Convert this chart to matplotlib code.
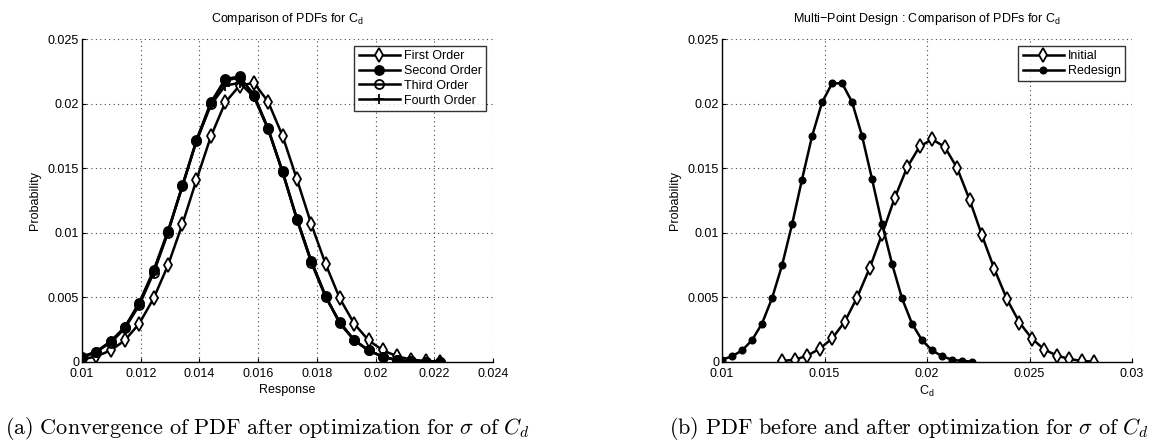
import matplotlib
matplotlib.use("Agg")
import matplotlib.pyplot as plt
from matplotlib.ticker import FixedLocator, FixedFormatter

plt.rcParams['font.family'] = ['Liberation Sans', 'DejaVu Sans']
plt.rcParams['mathtext.fontset'] = 'custom'
plt.rcParams['mathtext.rm'] = 'Liberation Sans'
plt.rcParams['mathtext.it'] = 'Liberation Sans:italic'

# ---------------- data: left panel ----------------
x_resp = [0.01000, 0.01049, 0.01098, 0.01146, 0.01195, 0.01244, 0.01293, 0.01342,
          0.01390, 0.01439, 0.01488, 0.01537, 0.01586, 0.01634, 0.01683, 0.01732,
          0.01781, 0.01830, 0.01878, 0.01927, 0.01976, 0.02025, 0.02074, 0.02122,
          0.02171, 0.02220]
first_order = [0.00018, 0.00044, 0.00090, 0.00168, 0.00297, 0.00493, 0.00749, 0.01067,
               0.01410, 0.01746, 0.02009, 0.02140, 0.02160, 0.02014, 0.01751, 0.01415,
               0.01067, 0.00757, 0.00493, 0.00297, 0.00168, 0.00090, 0.00044, 0.00018,
               0.00008, 0.00003]
second_order = [0.00040, 0.00080, 0.00160, 0.00270, 0.00460, 0.00710, 0.01015, 0.01360,
                0.01720, 0.02010, 0.02190, 0.02210, 0.02060, 0.01810, 0.01470, 0.01110,
                0.00780, 0.00510, 0.00300, 0.00170, 0.00090, 0.00040, 0.00013, 0.00005,
                0.00002, 0.00001]
third_order = [0.00030, 0.00080, 0.00150, 0.00260, 0.00440, 0.00690, 0.01000, 0.01370,
               0.01710, 0.02000, 0.02180, 0.02200, 0.02070, 0.01800, 0.01480, 0.01100,
               0.00770, 0.00500, 0.00310, 0.00170, 0.00090, 0.00040, 0.00015, 0.00005,
               0.00002, 0.00001]
fourth_order = [0.00040, 0.00080, 0.00160, 0.00270, 0.00450, 0.00700, 0.01010, 0.01360,
                0.01710, 0.01990, 0.02140, 0.02160, 0.02050, 0.01800, 0.01470, 0.01110,
                0.00780, 0.00510, 0.00300, 0.00170, 0.00090, 0.00040, 0.00014, 0.00005,
                0.00002, 0.00001]

left_xticks = [0.01, 0.012, 0.014, 0.016, 0.018, 0.02, 0.022, 0.024]
left_xlabels = ['0.01', '0.012', '0.014', '0.016', '0.018', '0.02', '0.022', '0.024']

# ---------------- data: right panel ----------------
x_initial = [0.01294, 0.01355, 0.01416, 0.01477, 0.01538, 0.01599, 0.01659, 0.01720,
             0.01781, 0.01842, 0.01903, 0.01964, 0.02025, 0.02086, 0.02147, 0.02208,
             0.02268, 0.02329, 0.02390, 0.02451, 0.02512, 0.02573, 0.02634, 0.02695,
             0.02756, 0.02817]
initial = [0.00008, 0.00018, 0.00049, 0.00103, 0.00183, 0.00313, 0.00499, 0.00726,
           0.00989, 0.01268, 0.01506, 0.01668, 0.01723, 0.01666, 0.01501, 0.01255,
           0.00981, 0.00718, 0.00486, 0.00305, 0.00181, 0.00096, 0.00049, 0.00023,
           0.00008, 0.00003]
x_redesign = x_resp
redesign = [0.00018, 0.00044, 0.00090, 0.00168, 0.00297, 0.00493, 0.00749, 0.01067,
            0.01410, 0.01746, 0.02009, 0.02157, 0.02157, 0.02014, 0.01751, 0.01415,
            0.01067, 0.00757, 0.00493, 0.00297, 0.00168, 0.00090, 0.00044, 0.00018,
            0.00008, 0.00003]

right_xticks = [0.01, 0.015, 0.02, 0.025, 0.03]
right_xlabels = ['0.01', '0.015', '0.02', '0.025', '0.03']

yticks = [0, 0.005, 0.01, 0.015, 0.02, 0.025]
ylabels = ['0', '0.005', '0.01', '0.015', '0.02', '0.025']

W, H = 1167, 442
fig = plt.figure(figsize=(W / 100, H / 100), dpi=100)

def ax_rect(x0, y0, x1, y1):
    return [x0 / W, 1 - y1 / H, (x1 - x0) / W, (y1 - y0) / H]

ax1 = fig.add_axes(ax_rect(82, 39, 493, 362))
ax2 = fig.add_axes(ax_rect(722, 39, 1132, 362))

LW = 1.8
MEW = 1.3
FS = 9

def style(ax, xlim, xticks, xlabels):
    ax.set_xlim(*xlim)
    ax.set_ylim(0, 0.025)
    ax.xaxis.set_major_locator(FixedLocator(xticks))
    ax.xaxis.set_major_formatter(FixedFormatter(xlabels))
    ax.yaxis.set_major_locator(FixedLocator(yticks))
    ax.yaxis.set_major_formatter(FixedFormatter(ylabels))
    ax.grid(True, linestyle=(0, (1, 3)), color='#444444', linewidth=0.8)
    for s in ['top', 'right']:
        ax.spines[s].set_visible(False)
    for s in ['left', 'bottom']:
        ax.spines[s].set_linewidth(1.0)
    ax.tick_params(direction='in', length=3, width=0.8, labelsize=FS,
                   top=False, right=False)
    ax.tick_params(axis='x', pad=4)
    ax.tick_params(axis='y', pad=2)
    ax.set_ylabel('Probability', fontsize=FS, labelpad=5)

def add_legend(ax):
    leg = ax.legend(loc='upper right', fontsize=FS, frameon=True, fancybox=False,
                    edgecolor='black', handlelength=3.3, handletextpad=0.3,
                    borderaxespad=0.55, borderpad=0.35, labelspacing=0.22)
    leg.get_frame().set_linewidth(1.0)
    return leg

# left panel
ax1.plot(x_resp, first_order, '-d', color='black', lw=LW, ms=7,
         mfc='white', mec='black', mew=MEW, label='First Order')
ax1.plot(x_resp, second_order, '-o', color='black', lw=LW, ms=6.5,
         mfc='black', mec='black', mew=MEW, label='Second Order')
ax1.plot(x_resp, third_order, '-o', color='black', lw=LW, ms=6.5,
         mfc='none', mec='black', mew=MEW, label='Third Order')
ax1.plot(x_resp, fourth_order, '-+', color='black', lw=LW, ms=7,
         mec='black', mew=MEW, label='Fourth Order')
style(ax1, (0.01, 0.024), left_xticks, left_xlabels)
ax1.set_xlabel('Response', fontsize=FS, labelpad=3)
ax1.set_title('Comparison of PDFs for C$_\\mathrm{d}$', fontsize=9, pad=12)
add_legend(ax1)

# right panel
ax2.plot(x_initial, initial, '-d', color='black', lw=LW, ms=7,
         mfc='white', mec='black', mew=MEW, label='Initial')
ax2.plot(x_redesign, redesign, '-o', color='black', lw=LW, ms=4.5,
         mfc='black', mec='black', mew=MEW, label='Redesign')
style(ax2, (0.01, 0.03), right_xticks, right_xlabels)
ax2.set_xlabel('C$_\\mathrm{d}$', fontsize=FS, labelpad=3)
ax2.set_title('Multi\u2212Point Design : Comparison of PDFs for C$_\\mathrm{d}$',
              fontsize=9, pad=12)
add_legend(ax2)

# captions (LaTeX-like serif)
plt.rcParams['mathtext.fontset'] = 'cm'
fig.text(5 / W, 1 - 428 / H,
         r'$\mathrm{(a)\ Convergence\ of\ PDF\ after\ optimization\ for\ }\sigma\mathrm{\ of\ }C_d$',
         fontsize=16, ha='left', va='center')
fig.text(669 / W, 1 - 428 / H,
         r'$\mathrm{(b)\ PDF\ before\ and\ after\ optimization\ for\ }\sigma\mathrm{\ of\ }C_d$',
         fontsize=16, ha='left', va='center')

fig.savefig('out.png', dpi=100)
